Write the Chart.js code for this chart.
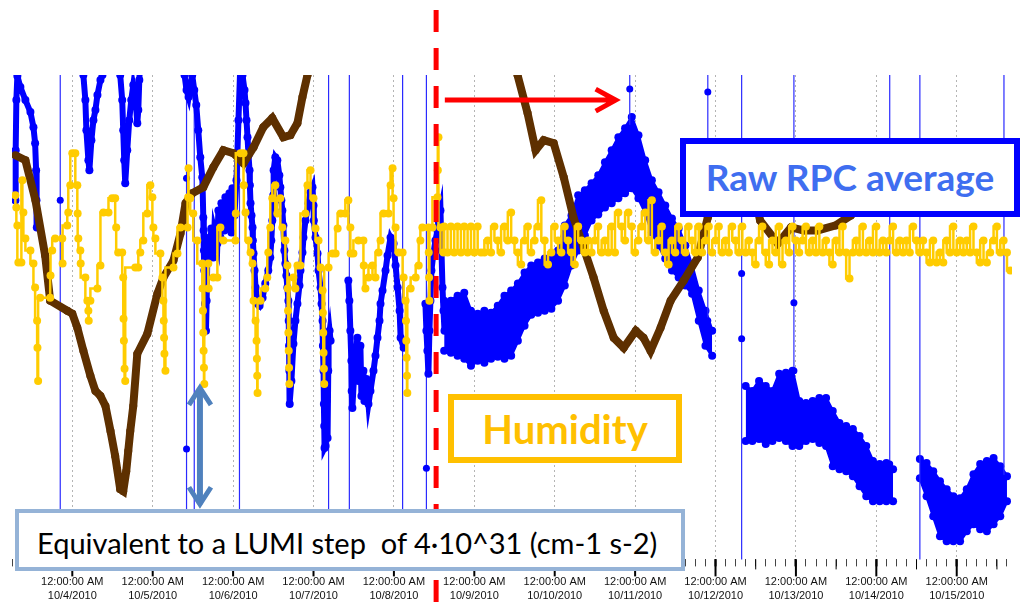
<!DOCTYPE html>
<html>
<head>
<meta charset="utf-8">
<script src="https://cdn.jsdelivr.net/npm/chart.js@4.4.1/dist/chart.umd.min.js"></script>
<style>
  html, body { margin: 0; padding: 0; background: #fff; }
  #wrap { position: relative; width: 1025px; height: 608px; overflow: hidden; }
  canvas { position: absolute; left: 0; top: 0; }
  .note { position: absolute; box-sizing: border-box; background: #fff; font-family: Lato, 'Open Sans', sans-serif; white-space: nowrap; }
  #rpcNote { left: 680px; top: 138px; width: 340px; height: 79px; border: 6px solid #0000ff; color: #3f6ef0; font-weight: bold; font-size: 37px; line-height: 66px; text-align: center; }
  #humNote { left: 448px; top: 394px; width: 234px; height: 69px; border: 6px solid #ffc000; color: #ffc000; font-weight: bold; font-size: 40px; line-height: 58px; text-align: center; }
  #lumiNote { left: 15px; top: 509px; width: 670px; height: 62px; border: 4px solid #95b3d7; color: #000; font-size: 29px; line-height: 60px; padding-left: 18px; }
</style>
</head>
<body>
<div id="wrap">
  <canvas id="grafica" width="1025" height="608"></canvas>
  <div class="note" id="rpcNote">Raw RPC average</div>
  <div class="note" id="humNote">Humidity</div>
  <div class="note" id="lumiNote">Equivalent to a LUMI step&nbsp; of 4·10^31 (cm-1 s-2)</div>
</div>
<script>
// x values are hours after 12:00:00 AM 10/4/2010, y values are relative units (0 - 48.3)
const timeLabel = '12:00:00 AM';
const dayLabels = ['10/4/2010', '10/5/2010', '10/6/2010', '10/7/2010', '10/8/2010', '10/9/2010',
  '10/10/2010', '10/11/2010', '10/12/2010', '10/13/2010', '10/14/2010', '10/15/2010'];

// Raw RPC average: narrow excursions before 10/9 ([hour, value], null value = gap)
const rpcPath = [
  [-17.0, 35.8], [-16.9, 40.8], [-16.7, 45.8], [-16.4, 48.2], [-15.5, 47.1], [-14.0, 45.8], [-12.5, 44.6],
  [-11.6, 43.1], [-11.1, 41.5], [-10.8, 38.8], [-10.7, 35.8], [-10.6, 33.1], [-10.5, null],
  [3.0, 50], [3.3, 48.3], [3.9, 45.8], [4.2, 42.8], [4.8, 39.8], [5.1, 38.8], [5.7, 41.8], [6.3, 43.8],
  [6.9, 44.8], [7.5, 46.3], [8.4, 47.8], [9.0, 48.3], [9.6, 49.8], [9.7, null],
  [14.0, 50], [14.3, 48.3], [14.9, 45.8], [15.2, 42.8], [15.5, 39.8], [15.8, 37.5], [16.4, 40.8], [17.0, 43.8],
  [17.6, 45.8], [18.2, 47.3], [18.8, 46.3], [19.4, 43.5], [19.7, 44.8], [20.0, 47.8], [20.3, 49.8], [20.4, null],
  [33.2, 49.8], [33.5, 48.3], [34.1, 46.8], [34.7, 46.1], [35.2, 47.3], [35.8, 48.3], [36.4, 46.8], [37.0, 45.3],
  [37.6, 42.8], [38.2, 40.1], [38.8, 38.1], [38.9, 37.1], [39.1, 34.1], [39.2, 32.8], [39.3, 30.8], [39.4, 28.8],
  [39.6, 25.5], [39.9, 22.8], [40.1, 25.8], [40.3, 30.1], [40.6, 31.8], [41.2, 31.5], [41.5, 33.0], [42.1, 30.1],
  [42.4, 32.8], [43.3, 31.5], [43.6, 34.8], [44.2, 32.1], [44.5, 35.5], [45.4, 32.8], [45.7, 36.1], [46.3, 33.0],
  [46.9, 36.5], [47.5, 32.6], [47.8, 37.0], [48.4, 34.3], [49.0, 37.8], [49.6, 43.8], [50.2, 49.8], [50.8, 48.3],
  [51.4, 46.8], [51.7, 45.5], [52.0, 43.8], [52.3, 42.1], [52.6, 40.3], [52.9, 38.8], [53.0, 37.3], [53.2, 35.5],
  [53.5, 34.3], [53.8, 33.1], [53.9, 31.8], [54.1, 30.5], [54.4, 28.8], [54.7, 27.1], [55.3, 25.5], [55.9, 25.3],
  [56.8, 26.1], [57.6, 27.5], [58.5, 28.8], [59.1, 30.1], [59.4, 31.8], [59.7, 33.8], [60.0, 36.3], [60.1, 38.8],
  [60.6, 40.1], [61.2, 39.8], [61.8, 38.3], [62.1, 37.1], [62.4, 35.8], [62.7, 34.8], [63.0, 33.3], [63.3, 30.8],
  [63.6, 29.5], [63.9, 28.3], [64.2, 27.1], [64.5, 25.8], [64.6, 23.8], [64.7, 21.3], [64.8, 18.8], [64.9, 15.5],
  [65.4, 17.8], [66.0, 21.5], [66.6, 23.8], [67.2, 25.5], [67.8, 27.3], [68.1, 28.8], [68.7, 30.6], [69.0, 32.1],
  [69.6, 33.8], [70.5, 35.5], [71.1, 36.6], [71.7, 37.1], [72.0, 35.3], [72.1, 33.8], [72.6, 32.1], [73.2, 30.5],
  [73.5, 28.8], [74.1, 27.1], [74.4, 25.5], [74.7, 23.8], [74.8, 21.3], [75.0, 18.8], [75.1, 15.5], [75.2, 13.3],
  [75.3, 11.1], [75.6, 11.3], [75.9, 15.8], [76.2, 12.1], [76.4, 18.8], [76.5, 22.1], [76.8, 22.8], [77.1, 21.8], [77.2, null],
  [82.4, 27.8], [82.7, 25.8], [83.0, 22.8], [83.3, 19.8], [83.4, 16.8], [83.6, 15.1], [84.2, 18.8], [85.1, 22.1],
  [85.4, 17.8], [86.0, 21.3], [86.3, 16.3], [86.9, 18.8], [87.2, 15.8], [87.8, 18.0], [88.4, 15.5], [89.0, 16.8],
  [89.9, 18.8], [90.5, 20.3], [91.1, 22.1], [91.7, 23.8], [92.0, 25.5], [92.6, 26.8], [93.5, 28.8], [94.1, 30.3],
  [95.0, 32.1], [95.9, 31.5], [96.5, 29.3], [97.1, 27.1], [97.7, 24.8], [98.0, 22.1], [98.9, 21.1], [99.0, null],
  [105.4, 25.5], [105.7, 22.8], [106.0, 20.8], [106.3, 18.5], [106.6, 22.8], [106.9, 25.8], [107.2, 28.8],
  [107.8, 30.5], [108.4, 31.8], [109.0, 32.8], [109.3, 33.8], [109.9, 34.8], [110.2, 30.8], [110.5, 27.1],
  [110.8, 24.8], [111.1, 22.8]
];

// Raw RPC average: upper / lower edge of the noisy band, every 2 hours
const rpcTopA = [25.8, 25.8, 26.3, 26.6, 24.8, 24.5, 24.8, 24.6, 25.3, 26.3, 26.8, 27.5, 28.6, 29.3, 29.6, 30.0,
  30.3, 30.8, 33.3, 34.3, 36.3, 36.8, 37.5, 38.3, 39.6, 40.8, 42.1, 43.0, 44.1, 42.3, 39.8, 37.8, 36.6, 35.3,
  34.0, 33.0, 31.3, 29.3, 26.8, 24.8, 22.8];
const rpcLowA = [20.8, 20.6, 20.3, 20.0, 19.3, 19.8, 19.6, 20.0, 20.2, 20.0, 20.3, 21.8, 23.3, 24.4, 24.6, 24.8,
  25.0, 25.8, 27.3, 29.3, 30.8, 32.3, 33.8, 34.4, 35.1, 35.5, 36.0, 36.5, 37.0, 36.0, 34.6, 32.6, 31.3, 30.0,
  28.8, 28.1, 27.3, 26.5, 23.8, 21.3, 20.3];
const rpcTopB = [17.3, 16.8, 17.8, 17.3, 16.8, 18.5, 18.6, 18.8, 15.8, 15.6, 15.8, 16.1, 16.1, 14.8, 13.6, 13.3,
  13.0, 12.3, 11.3, 9.8, 9.5, 9.6, 9.0];
const rpcLowB = [11.8, 11.8, 12.0, 11.5, 11.8, 12.1, 11.8, 11.3, 11.3, 11.8, 12.0, 11.6, 11.3, 9.3, 9.0, 8.8,
  8.3, 7.3, 6.3, 5.8, 5.8, 5.8, 5.8];
const rpcTopC = [10.0, 9.6, 8.8, 7.8, 7.0, 6.3, 6.1, 7.0, 8.5, 9.5, 9.8, 10.1, 9.3, 8.3];
const rpcLowC = [8.1, 6.3, 4.3, 2.3, 1.8, 1.8, 1.8, 2.8, 3.5, 3.0, 2.8, 3.5, 4.3, 5.8];
const bandStarts = [111, 201, 253];

// Raw RPC average: out-of-range jumps [hour, values...]
const rpcSpikes = [
  [-3.6, -10, 35.8, 60], [34.1, -10, 11.0, 38.0, 60], [36.4, -10, 60], [49.9, -10, 60], [76.5, -10, 60],
  [82.7, -10, 60], [98.6, -10, 60], [105.7, -10, 9.1, 60], [166.4, 43.0, 46.9, 60], [189.7, 23.8, 46.6, 60],
  [199.8, -10, 22.0, 28.5, 60], [215.4, 18.8, 25.6, 60], [244.0, 9.5, 60], [253.0, -10, 60], [278.1, 8.1, 60]
];

// Humidity before 10/9 ([hour, value])
const humidityLeft = [
  [-17.0, 36.3], [-16.7, 35.1], [-16.4, 33.3], [-16.1, 29.6], [-15.2, 29.6], [-14.9, 37.8], [-14.6, 34.6],
  [-14.0, 32.0], [-12.5, 30.8], [-11.6, 29.5], [-11.1, 27.1], [-10.5, 23.8], [-10.4, 21.1], [-10.2, 17.8],
  [-9.6, 26.1], [-6.6, 26.1], [-6.5, 28.3], [-6.0, 30.8], [-5.1, 32.0], [-3.0, 32.0], [-2.9, 29.5], [-1.5, 33.3],
  [-1.2, 34.6], [-0.6, 37.3], [0, 40.5], [0.9, 40.5], [1.5, 37.3], [1.6, 34.5], [1.8, 32.0], [2.4, 30.8],
  [2.5, 29.5], [3.9, 28.1], [4.5, 25.8], [4.8, 24.8], [4.9, 23.8], [5.4, 25.8], [7.5, 27.0], [8.4, 29.3],
  [9.3, 34.6], [10.8, 34.6], [11.9, 36.0], [12.8, 36.0], [13.1, 33.1], [13.7, 30.6], [14.9, 30.6], [15.2, 28.1],
  [15.3, 24.0], [15.4, 21.8], [15.6, 19.0], [15.8, 17.8], [18.8, 29.1], [19.7, 29.1], [20.3, 30.6], [21.2, 31.8],
  [22.4, 34.5], [23.3, 37.3], [23.9, 36.1], [24.2, 33.1], [24.8, 32.0], [26.3, 30.5], [26.9, 28.1], [27.2, 25.8],
  [27.3, 23.8], [27.4, 22.1], [27.5, 20.5], [27.8, 18.8], [30.2, 29.1], [31.4, 30.5], [32.3, 33.1], [34.4, 33.1],
  [34.6, 36.1], [34.7, 39.0], [35.2, 36.0], [36.1, 34.5], [37.3, 31.8], [38.8, 29.5], [38.9, 27.0], [39.0, 24.8],
  [39.1, 22.6], [39.2, 20.8], [39.3, 19.1], [39.4, 17.5], [40.6, 29.5], [40.7, 27.0], [42.1, 28.1], [43.3, 28.1],
  [44.2, 33.1], [45.1, 31.8], [48.7, 31.8], [48.8, 34.5], [50.2, 40.5], [51.1, 40.5], [51.2, 37.3], [51.7, 34.6],
  [52.6, 31.8], [53.2, 30.6], [53.8, 29.5], [54.1, 25.8], [54.7, 23.8], [55.0, 21.8], [55.1, 20.0], [55.2, 18.3],
  [55.3, 16.6], [56.2, 25.8], [57.6, 27.0], [58.2, 28.1], [58.5, 30.6], [59.1, 33.1], [59.7, 36.0], [60.6, 37.3],
  [61.2, 34.5], [62.1, 36.0], [62.7, 33.1], [63.6, 31.8], [64.2, 29.3], [64.3, 27.0], [64.4, 24.8], [64.5, 22.6],
  [64.6, 20.8], [64.7, 19.1], [64.8, 17.5], [66.0, 28.1], [66.6, 27.0], [67.2, 29.3], [68.1, 29.3], [69.6, 34.5],
  [70.2, 37.3], [71.1, 38.8], [72.0, 36.0], [72.6, 33.0], [73.5, 31.8], [74.1, 29.1], [74.7, 26.8], [74.8, 24.6],
  [74.9, 22.6], [75.0, 20.6], [75.1, 19.0], [75.2, 17.5], [76.5, 29.1], [77.7, 30.5], [78.6, 30.5], [79.2, 33.0],
  [80.1, 34.5], [81.5, 34.5], [82.4, 35.8], [83.0, 33.1], [83.1, 30.5], [83.9, 30.5], [85.4, 31.8], [86.9, 31.8],
  [87.0, 29.3], [87.5, 27.0], [88.4, 28.1], [89.6, 29.3], [90.5, 28.1], [91.4, 30.6], [92.0, 31.8], [92.9, 34.5],
  [94.4, 34.5], [95.0, 37.3], [95.6, 39.0], [95.9, 36.0], [96.5, 33.1], [97.4, 30.6], [98.6, 30.6], [98.9, 28.1],
  [99.5, 25.8], [99.6, 23.8], [99.7, 21.8], [99.8, 20.1], [99.9, 18.3], [100.0, 16.6], [101.0, 27.0], [102.5, 28.1],
  [103.4, 29.3], [103.9, 31.8], [104.5, 33.1], [106.3, 33.1], [106.4, 30.6], [106.5, 28.1], [106.6, 25.8],
  [107.5, 33.1], [109.0, 36.1], [109.1, 38.8], [109.3, 42.1], [109.9, 33.1], [110.8, 30.6]
];
// Humidity from hour 111 on, one reading per hour
const humidityStart = 111;
const humidityRight = [
  33.2, 30.6, 33.2, 30.6, 33.2, 30.6, 33.2, 30.6, 33.2, 30.6, 33.2, 30.6,
  30.6, 31.8, 30.6, 33.2, 31.8, 30.6,
  33.2, 31.8, 34.6, 31.8, 30.6, 29.4,
  31.8, 33.2, 30.6, 31.8, 33.2, 35.8, 31.8,
  29.4, 30.6, 33.2, 31.8, 30.6, 33.2, 31.8,
  30.6, 29.4, 33.2, 31.8, 30.6, 31.8, 30.6,
  31.8, 33.2, 30.6, 31.8, 30.6, 33.2, 30.6,
  34.6, 33.2, 31.8, 34.6, 33.2, 30.6, 31.8, 33.2,
  34.6, 31.8, 35.8, 30.6, 31.8, 33.2, 30.6, 29.4,
  31.8, 30.6, 33.2, 31.8, 30.6, 33.2, 31.8, 30.6,
  33.2, 30.6, 31.8, 33.2, 30.6, 31.8, 33.2, 30.6,
  31.8, 30.6, 33.2, 31.8, 30.6, 33.2, 30.6, 31.8,
  30.6, 29.4, 31.8, 33.2, 30.6, 29.4, 31.8, 30.6,
  33.2, 29.4, 31.8, 30.6, 33.2, 31.8, 30.6, 31.8,
  33.2, 30.6, 31.8, 30.6, 33.2, 30.6, 31.8, 30.6,
  29.4, 31.8, 30.6, 33.2, 30.6, 28.0, 30.6, 31.8,
  30.6, 33.2, 30.6, 31.8, 30.6, 33.2, 30.6, 31.8,
  30.6, 31.8, 33.2, 30.6, 31.8, 30.6, 31.8, 30.6,
  33.2, 31.8, 30.6, 31.8, 30.6, 29.6, 31.8, 29.6,
  30.6, 29.6, 31.8, 30.6, 33.2, 30.6, 31.8, 30.6,
  31.8, 30.6, 33.2, 30.6, 29.6, 31.8, 29.6, 30.6,
  31.8, 33.2, 30.6, 31.8, 30.6, 28.8
];

// Brown trace ([hour, value]); above 48.3 is off the top of the plot
const brownSeries = [
  [-17.0, 40.3], [-14.0, 39.8], [-11.0, 35.8], [-8.1, 30.3], [-6.6, 25.8], [-1.5, 24.8], [0, 24.5], [1.5, 23.1],
  [3.3, 20.8], [5.4, 18.3], [6.9, 16.8], [8.4, 16.3], [9.9, 15.3], [11.4, 12.8], [12.8, 10.3], [14.3, 7.0],
  [15.2, 6.8], [16.1, 8.8], [16.7, 10.8], [17.3, 12.8], [18.2, 15.3], [19.4, 20.5], [22.4, 22.5], [25.4, 26.5],
  [27.2, 28.1], [30.2, 29.8], [32.3, 32.5], [33.8, 35.5], [35.8, 36.5], [39.1, 37.1], [42.1, 39.1], [45.1, 40.8],
  [48.1, 40.5], [51.1, 39.5], [54.1, 41.1], [57.0, 43.1], [59.7, 44.0], [63.0, 42.1], [65.1, 42.3], [67.2, 43.5],
  [68.7, 46.1], [70.2, 48.3], [77, 55], [98, 58], [122, 56], [130.8, 52], [132.9, 48.3], [135.9, 44.5],
  [138.3, 40.8], [140.7, 41.8], [143.7, 41.5], [146.7, 38.1], [149.6, 34.1], [152.6, 31.1], [155.6, 28.1],
  [158.6, 24.8], [161.6, 22.1], [164.6, 21.1], [168.2, 22.8], [170.5, 22.1], [172.6, 20.8], [175.6, 23.1],
  [178.6, 25.8], [182.5, 27.8], [186.7, 30.1], [189.7, 34.1], [193.5, 37.8], [199.5, 38.8], [204, 35.8],
  [205.3, 33.8], [210.6, 31.5], [214.5, 33.1], [218.3, 32.8], [222.5, 32.8], [227.9, 33.3], [232.4, 34.3], [235, 36]
];

// Annotations
const markerHour = 108.6;
const arrowFrom = 111.2, arrowTo = 162.2, arrowLevel = 45.8;
const lumiHour = 38.1, lumiTop = 17.3, lumiBottom = 5.3;

(function(){
    const colores = {
        azul: '#0000ff',
        marron: '#5e3000',
        amarillo: '#ffcc00',
        rojo: '#ff0000',
        flecha: '#4f81bd'
    };

    const pares = arr => arr.map(p => ({x: p[0], y: p[1]}));
    const banda = lists => {
        const out = [];
        lists.forEach((vals, k) => {
            if (k > 0) out.push({x: bandStarts[k] - 1, y: null});
            vals.forEach((v, i) => out.push({x: bandStarts[k] + 2 * i, y: v}));
        });
        return out;
    };
    const saltos = [];
    rpcSpikes.forEach(s => {
        s.slice(1).forEach(v => saltos.push({x: s[0], y: v}));
        saltos.push({x: s[0], y: null});
    });
    const humedad = pares(humidityLeft).concat(humidityRight.map((v, i) => ({x: humidityStart + i, y: v})));

    const esDia = v => Math.abs(v % 24) < 1e-6;

    const overlay = {
        id: 'overlay',
        afterDraw(chart) {
            const {ctx, chartArea, scales: {x, y}} = chart;
            ctx.save();
            // major day ticks and noon ticks
            ctx.strokeStyle = '#000';
            x.ticks.forEach(t => {
                const px = x.getPixelForValue(t.value);
                let len = 0;
                if (esDia(t.value)) { len = 17; ctx.lineWidth = 2; }
                else if (Math.abs(t.value % 12) < 1e-6) { len = 10; ctx.lineWidth = 1; }
                if (len) {
                    ctx.beginPath();
                    ctx.moveTo(px, chartArea.bottom);
                    ctx.lineTo(px, chartArea.bottom + len);
                    ctx.stroke();
                }
            });
            // red dashed marker
            const mx = x.getPixelForValue(markerHour);
            ctx.strokeStyle = colores.rojo;
            ctx.lineWidth = 5;
            ctx.setLineDash([22, 16]);
            ctx.beginPath();
            ctx.moveTo(mx, 10);
            ctx.lineTo(mx, chart.height);
            ctx.stroke();
            ctx.setLineDash([]);
            // red arrow
            const ay = y.getPixelForValue(arrowLevel);
            const ax0 = x.getPixelForValue(arrowFrom), ax1 = x.getPixelForValue(arrowTo);
            ctx.lineWidth = 5;
            ctx.beginPath();
            ctx.moveTo(ax0, ay); ctx.lineTo(ax1 - 2, ay);
            ctx.moveTo(ax1 - 20, ay - 11); ctx.lineTo(ax1, ay); ctx.lineTo(ax1 - 20, ay + 11);
            ctx.stroke();
            // blue double arrow
            const bx = x.getPixelForValue(lumiHour);
            const by0 = y.getPixelForValue(lumiTop), by1 = y.getPixelForValue(lumiBottom);
            ctx.strokeStyle = colores.flecha;
            ctx.lineWidth = 6;
            ctx.beginPath();
            ctx.moveTo(bx, by0 + 2); ctx.lineTo(bx, by1 - 2);
            ctx.stroke();
            ctx.lineWidth = 5;
            ctx.beginPath();
            ctx.moveTo(bx - 11, by0 + 19); ctx.lineTo(bx, by0 + 2); ctx.lineTo(bx + 11, by0 + 19);
            ctx.moveTo(bx - 11, by1 - 19); ctx.lineTo(bx, by1 - 2); ctx.lineTo(bx + 11, by1 - 19);
            ctx.stroke();
            ctx.restore();
        }
    };

    const ctx = document.getElementById('grafica').getContext('2d');
    new Chart(ctx, {
        type: 'line',
        data: {
            datasets: [
                {
                    label: 'Humidity',
                    data: humedad,
                    borderColor: colores.amarillo,
                    backgroundColor: colores.amarillo,
                    borderWidth: 2.5,
                    pointRadius: 4,
                    pointBorderWidth: 0,
                    stepped: 'after',
                    clip: 0,
                    order: 1
                },
                {
                    label: 'Brown',
                    data: pares(brownSeries),
                    borderColor: colores.marron,
                    backgroundColor: colores.marron,
                    borderWidth: 8,
                    pointRadius: 4,
                    pointBorderWidth: 0,
                    clip: 0,
                    order: 2
                },
                {
                    label: 'Raw RPC average',
                    data: pares(rpcPath),
                    borderColor: colores.azul,
                    backgroundColor: colores.azul,
                    borderWidth: 6,
                    pointRadius: 4,
                    pointBorderWidth: 0,
                    clip: 0,
                    order: 3
                },
                {
                    label: 'RPC jumps',
                    data: saltos,
                    borderColor: '#2a2aff',
                    backgroundColor: colores.azul,
                    borderWidth: 1.2,
                    pointRadius: 3.5,
                    pointBorderWidth: 0,
                    clip: 0,
                    order: 4
                },
                {
                    label: 'RPC band top',
                    data: banda([rpcTopA, rpcTopB, rpcTopC]),
                    borderColor: colores.azul,
                    backgroundColor: colores.azul,
                    borderWidth: 3,
                    pointRadius: 4,
                    pointBorderWidth: 0,
                    clip: 0,
                    order: 5
                },
                {
                    label: 'RPC band low',
                    data: banda([rpcLowA, rpcLowB, rpcLowC]),
                    borderColor: colores.azul,
                    backgroundColor: colores.azul,
                    borderWidth: 3,
                    pointRadius: 4,
                    pointBorderWidth: 0,
                    fill: '-1',
                    clip: 0,
                    order: 6
                }
            ]
        },
        options: {
            responsive: false,
            animation: false,
            spanGaps: false,
            layout: { padding: { left: 12, right: 13, top: 75, bottom: -3 } },
            elements: { line: { tension: 0 } },
            scales: {
                x: {
                    type: 'linear',
                    min: -18,
                    max: 280.5,
                    border: { display: false, dash: [2, 3] },
                    grid: {
                        color: c => c.tick && esDia(c.tick.value) ? '#b4b4b4' : 'rgba(0,0,0,0)',
                        lineWidth: 1,
                        tickLength: 7,
                        tickColor: c => c.tick && esDia(c.tick.value) ? '#000' : '#444',
                        tickWidth: c => c.tick && esDia(c.tick.value) ? 2 : 1
                    },
                    ticks: {
                        stepSize: 3,
                        autoSkip: false,
                        maxRotation: 0,
                        includeBounds: false,
                        padding: 8,
                        color: '#111',
                        font: { family: "'Liberation Sans', Arial, sans-serif", size: 11, lineHeight: 1.3 },
                        callback: v => esDia(v) ? [timeLabel, dayLabels[Math.round(v / 24)]] : ''
                    }
                },
                y: { display: false, min: 0, max: 48.3 }
            },
            plugins: {
                legend: { display: false },
                tooltip: { enabled: false }
            }
        },
        plugins: [overlay]
    });
})();
</script>
</body>
</html>
